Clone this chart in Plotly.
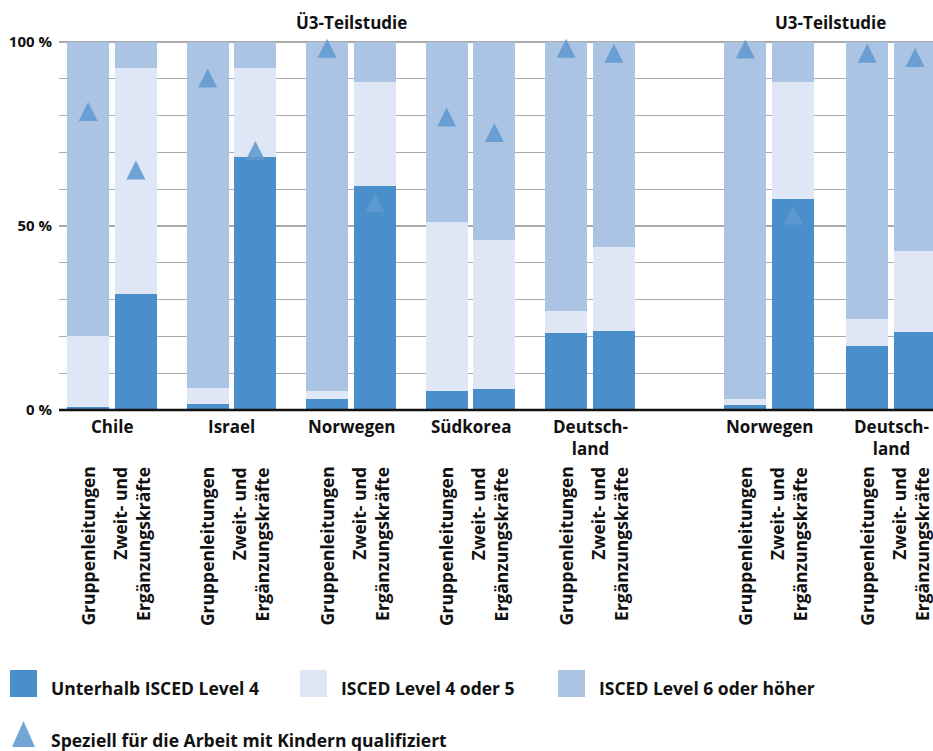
import plotly.graph_objects as go

# ---------------- data ----------------
countries = ["Chile", "Israel", "Norwegen", "Südkorea", "Deutsch-<br>land", "Norwegen", "Deutsch-<br>land"]
group_pos = [0, 1, 2, 3, 4, 5.5, 6.52]
roles = ["Gruppenleitungen", "Zweit- und<br>Ergänzungskräfte"]
study_titles = ["Ü3-Teilstudie", "U3-Teilstudie"]
study_centers = [2.0, 6.01]

# per bar: (country group, role) order: G, Z for each group
below_isced4 = [0.8, 31.6, 1.5, 68.7, 2.9, 60.9, 5.1, 5.6, 20.8, 21.6, 1.3, 57.4, 17.3, 21.3]
isced4_5 = [19.2, 61.3, 4.4, 24.2, 2.4, 28.2, 46.0, 40.7, 6.2, 22.8, 1.6, 31.7, 7.5, 22.0]
isced6_plus = [80.0, 7.1, 94.1, 7.1, 94.7, 10.9, 48.9, 53.7, 73.0, 55.6, 97.1, 10.9, 75.2, 56.7]
special_qualified = [83.7, 67.8, 92.8, 73.1, 100.9, 58.9, 82.2, 78.0, 100.9, 99.5, 100.7, 55.6, 99.5, 98.4]

series_names = ["Unterhalb ISCED Level 4", "ISCED Level 4 oder 5", "ISCED Level 6 oder höher"]
marker_name = "Speziell für die Arbeit mit Kindern qualifiziert"
y_tickvals = [0, 10, 20, 30, 40, 50, 60, 70, 80, 90, 100]
y_ticktext = ["0 %", "", "", "", "", "50 %", "", "", "", "", "100 %"]

# ---------------- style ----------------
C_DARK = "#4a8fc9"
C_LIGHT = "#dfe6f5"
C_MID = "#abc4e3"
C_TRI = "rgba(96,154,208,0.88)"
FONT = "Open Sans"
TXT = "#111111"

W, H = 933, 751
BOTTOM_PX = 410
PX_PER_PCT = 3.68
L, R, T = 59, 0, 35
B = H - BOTTOM_PX
PW, PH = W - L - R, BOTTOM_PX - T
Y_MAX = PH / PX_PER_PCT
UNIT = 119.5
X0 = -0.4435
X1 = X0 + PW / UNIT
OFF = 0.2
BARW = 0.35


def paper_x(px):
    return (px - L) / PW


def paper_y(py):
    return (BOTTOM_PX - py) / PH


bar_x = []
for g in group_pos:
    bar_x += [g - OFF, g + OFF]

fig = go.Figure()
for vals, name, col in zip([below_isced4, isced4_5, isced6_plus], series_names, [C_DARK, C_LIGHT, C_MID]):
    fig.add_trace(go.Bar(x=bar_x, y=vals, name=name, width=BARW, marker=dict(color=col, line=dict(width=0)),
                         showlegend=False, hoverinfo="skip"))

fig.add_trace(go.Scatter(x=bar_x, y=special_qualified, mode="markers", name=marker_name, showlegend=False,
                         cliponaxis=False, hoverinfo="skip",
                         marker=dict(symbol="arrow-up", size=19, color=C_TRI, line=dict(width=0))))

fig.update_layout(
    width=W, height=H, margin=dict(l=L, r=R, t=T, b=B, pad=0),
    barmode="stack", bargap=0,
    plot_bgcolor="white", paper_bgcolor="white",
    font=dict(family=FONT, color=TXT, size=15),
    xaxis=dict(range=[X0, X1], showgrid=False, zeroline=False, showticklabels=False, ticks="",
               showline=False, fixedrange=True),
    yaxis=dict(range=[0, Y_MAX], tickvals=y_tickvals, ticktext=y_ticktext, showgrid=True,
               gridcolor="#a9a9a9", gridwidth=1.2, zeroline=False, ticks="", ticklabelstandoff=6,
               tickfont=dict(family=FONT, size=15, weight=700, color=TXT), showline=False, fixedrange=True),
)

# axis baseline
fig.add_shape(type="line", xref="paper", yref="paper", x0=0, x1=1, y0=0, y1=0,
              line=dict(color="#111111", width=2.5), layer="above")

ann = []
# study titles
for t, c in zip(study_titles, study_centers):
    ann.append(dict(x=c, xref="x", y=paper_y(22), yref="paper", text=t, showarrow=False,
                    font=dict(family=FONT, size=17, weight=700, color=TXT), yanchor="middle"))
# country labels
for c, g in zip(countries, group_pos):
    ann.append(dict(x=g, xref="x", y=0, yref="paper", yshift=-3, text=c, showarrow=False,
                    font=dict(family=FONT, size=17, weight=700, color=TXT), yanchor="top", align="center"))
# role labels (rotated)
for g in group_pos:
    for k, role in enumerate(roles):
        ann.append(dict(x=g + (OFF if k else -OFF), xref="x", y=0, yref="paper", yshift=-55,
                        xshift=(-5 if k else -1),
                        text=role, showarrow=False, textangle=-90, align="right",
                        font=dict(family=FONT, size=17.5, weight=700, color=TXT),
                        yanchor="top", xanchor="center"))

# legend (manual)
legend_items = [(10, series_names[0], C_DARK), (300, series_names[1], C_LIGHT), (558, series_names[2], C_MID)]
for px0, name, col in legend_items:
    fig.add_shape(type="rect", xref="paper", yref="paper", x0=paper_x(px0), x1=paper_x(px0 + 27),
                  y0=paper_y(670), y1=paper_y(697), fillcolor=col, line=dict(width=0))
    ann.append(dict(x=paper_x(px0 + 39), xref="paper", y=paper_y(688), yref="paper", text=name,
                    showarrow=False, xanchor="left", yanchor="middle",
                    font=dict(family=FONT, size=17.5, weight=700, color=TXT)))
tri = "M {:.5f},{:.5f} L {:.5f},{:.5f} L {:.5f},{:.5f} Z".format(
    paper_x(23.5), paper_y(721), paper_x(35), paper_y(747), paper_x(12), paper_y(747))
fig.add_shape(type="path", xref="paper", yref="paper", path=tri, fillcolor=C_TRI, line=dict(width=0))
ann.append(dict(x=paper_x(49), xref="paper", y=paper_y(740), yref="paper", text=marker_name,
                showarrow=False, xanchor="left", yanchor="middle",
                font=dict(family=FONT, size=17.5, weight=700, color=TXT)))

fig.update_layout(annotations=ann)
fig.write_html("out.html", config={"displayModeBar": False, "staticPlot": True},
               post_script="document.body.style.margin='0';document.body.style.overflow='hidden';")
